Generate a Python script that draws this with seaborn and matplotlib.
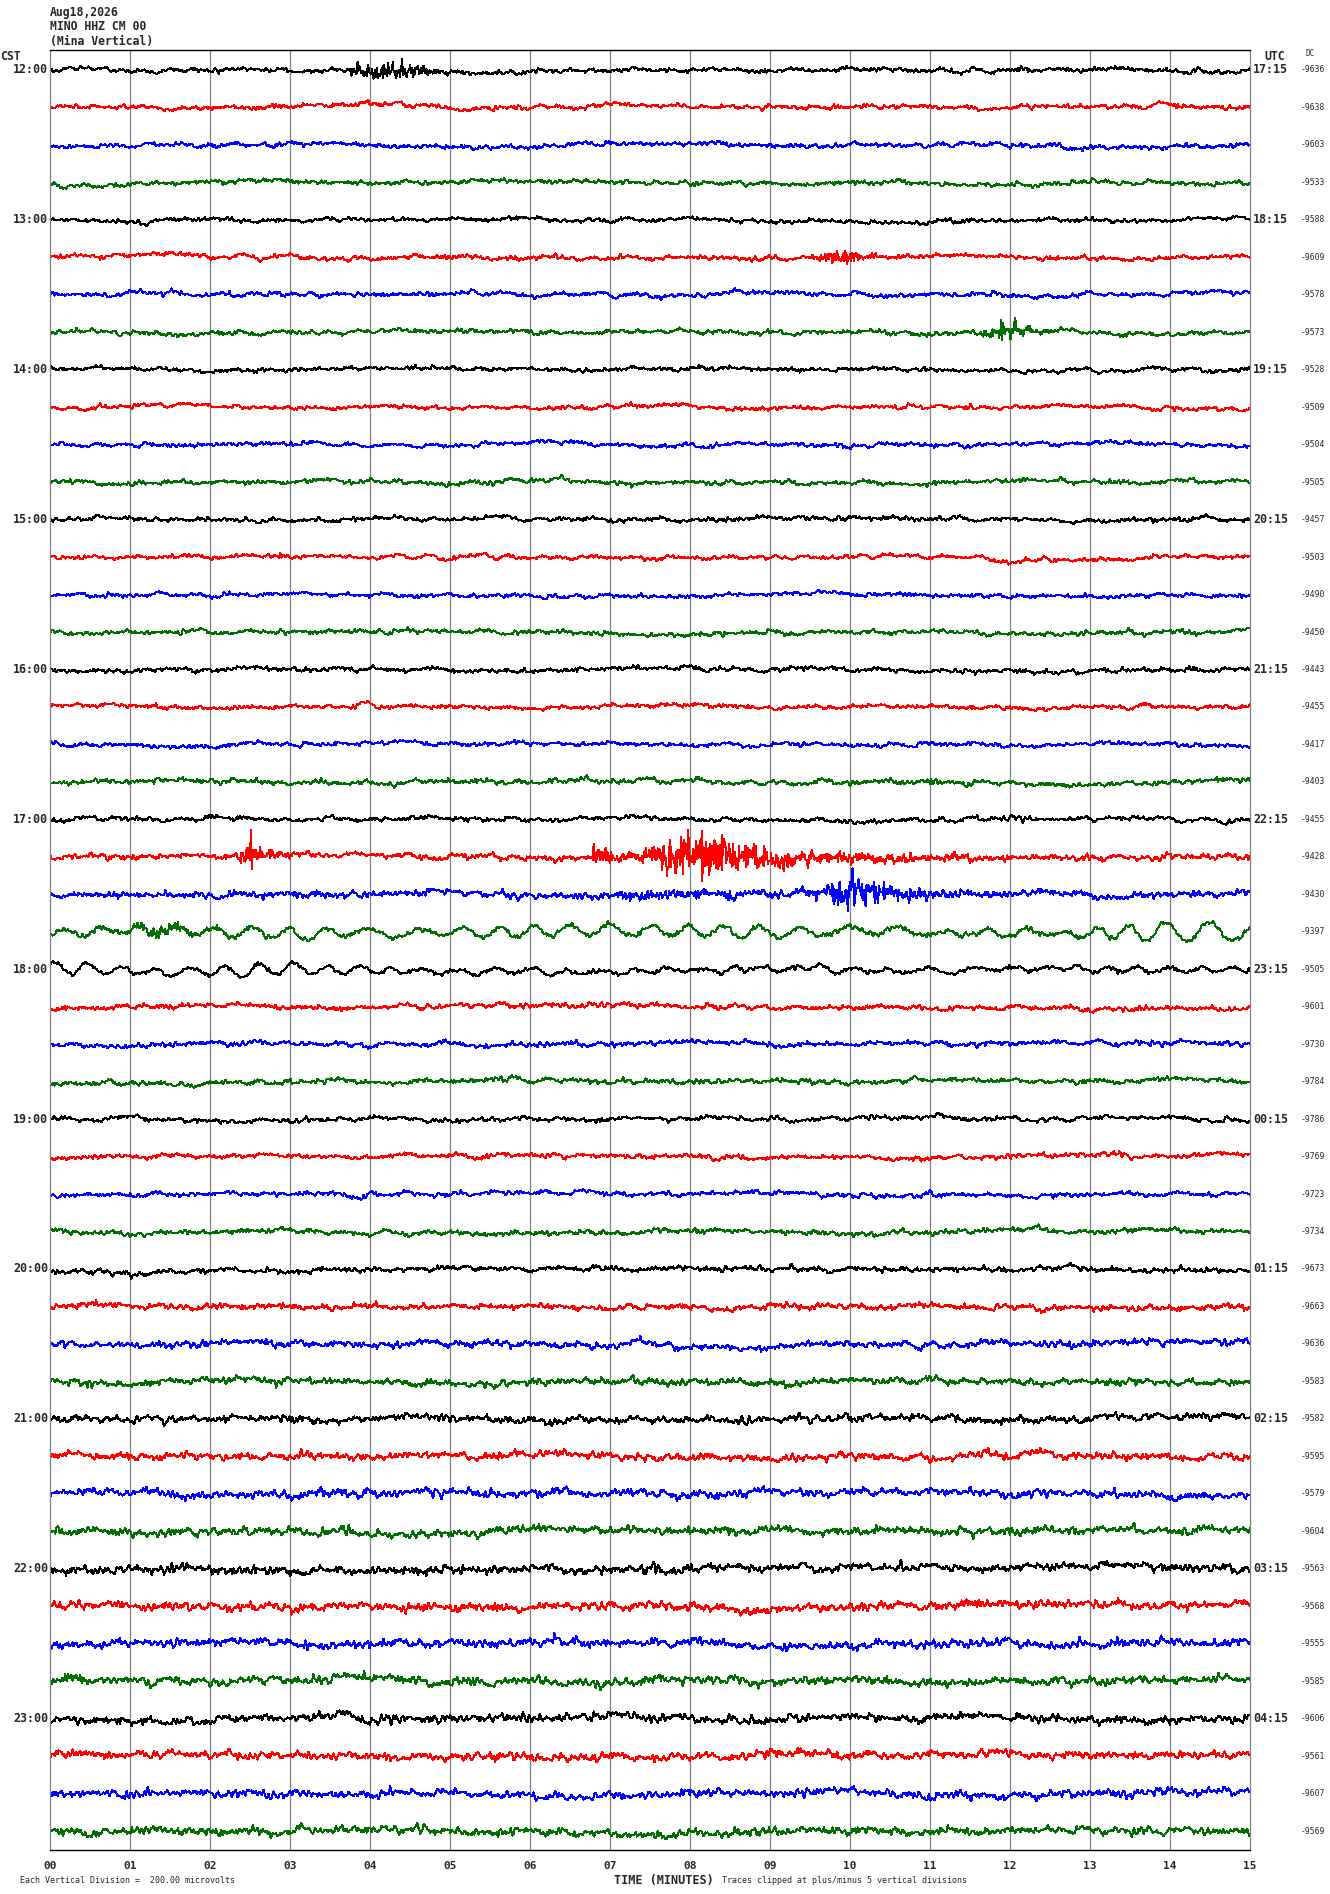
import numpy as np
import pandas as pd
import matplotlib
matplotlib.use('Agg')
import matplotlib.pyplot as plt
import matplotlib.transforms as mtransforms
import seaborn as sns

# ---- values ----
header = ['Aug18,2026', 'MINO HHZ CM 00', '(Mina Vertical)']
cst_hours = ['12:00', '13:00', '14:00', '15:00', '16:00', '17:00',
             '18:00', '19:00', '20:00', '21:00', '22:00', '23:00']
utc_hours = ['17:15', '18:15', '19:15', '20:15', '21:15', '22:15',
             '23:15', '00:15', '01:15', '02:15', '03:15', '04:15']
dc_values = [-9636, -9638, -9603, -9533, -9588, -9609, -9578, -9573,
             -9528, -9509, -9504, -9505, -9457, -9503, -9490, -9450,
             -9443, -9455, -9417, -9403, -9455, -9428, -9430, -9397,
             -9505, -9601, -9730, -9784, -9786, -9769, -9723, -9734,
             -9673, -9663, -9636, -9583, -9582, -9595, -9579, -9604,
             -9563, -9568, -9555, -9585, -9606, -9561, -9607, -9569]
trace_colors = ['black', 'red', 'blue', '#006e00']
minute_labels = ['%02d' % m for m in range(16)]

# background noise level of each row (pixels): jitter, wander
jitter_px = [1.0, 1.0, 1.0, 1.0, 0.9, 1.0, 1.0, 1.0, 0.9, 0.9, 0.9, 1.0,
             1.0, 0.9, 0.9, 1.0, 1.0, 0.9, 0.9, 1.1, 1.0, 1.3, 1.5, 1.2,
             1.0, 1.1, 1.1, 1.1, 1.0, 1.0, 1.0, 1.1, 1.2, 1.3, 1.5, 1.5,
             1.7, 1.7, 1.8, 1.8, 1.9, 1.9, 1.9, 1.9, 1.9, 1.8, 1.8, 1.8]
wander_px = [1.6, 1.6, 1.6, 1.5, 1.5, 1.6, 1.6, 1.5, 1.5, 1.5, 1.5, 1.6,
             1.6, 1.5, 1.5, 1.6, 1.6, 1.5, 1.5, 1.6, 1.6, 1.6, 1.7, 1.6,
             1.6, 1.6, 1.6, 1.6, 1.6, 1.6, 1.6, 1.6, 1.7, 1.7, 1.8, 1.8,
             1.9, 1.9, 2.0, 2.0, 2.0, 2.0, 2.0, 2.0, 2.0, 2.0, 2.0, 2.0]

# high-frequency bursts: row, onset min, peak min, decay min, amplitude px
burst_row = [0, 0, 5, 7, 19, 19, 21, 21, 21, 21, 22, 22, 23, 33]
burst_on = [3.72, 4.1, 9.4, 11.45, 10.98, 14.55, 2.3, 6.75, 7.3, 7.5, 6.9, 9.45, 0.95, 10.75]
burst_peak = [3.8, 4.3, 9.95, 11.95, 11.0, 14.6, 2.5, 6.8, 7.95, 8.2, 7.2, 10.0, 1.3, 10.8]
burst_decay = [0.6, 0.25, 0.22, 0.3, 0.05, 0.08, 0.2, 0.35, 0.8, 2.5, 3.0, 0.45, 0.6, 0.05]
burst_amp = [8, 10, 8, 9, 5, 4, 13, 12, 25, 4.5, 4, 16, 7, 7]

# single spikes: row, minute, height px
spike_row = [21, 22]
spike_min = [2.51, 10.04]
spike_px = [16, 28]

# slow humps: row, minute, width min, height px
hump_row = [44, 44, 1, 34, 34, 3, 13]
hump_min = [3.7, 4.0, 13.95, 7.4, 8.0, 0.6, 12.1]
hump_width = [0.12, 0.15, 0.15, 0.15, 0.12, 0.1, 0.2]
hump_px = [6, -3, 3, 4, -3, -3, -3]

# long-period swell: row, period min, envelope knots
swell_row = [23, 24]
swell_period = [0.5, 0.42]
swell_knot_min = [[0, 1, 2, 3, 5, 7, 8, 9.5, 10.5, 12.5, 13.3, 13.7, 15],
                  [0, 0.7, 1.1, 2, 2.3, 3, 3.5, 4.5, 6, 15]]
swell_knot_px = [[3, 4, 5, 5, 4, 5, 6, 5, 3, 3, 5, 9, 9],
                 [6, 5, 2.5, 2.5, 5.5, 5, 3.5, 2.5, 2, 2]]

n_rows = 48
row_px = 37.47
n_samp = 1800
minutes = np.linspace(0, 15, n_samp)


def smooth(v, w):
    k = np.exp(-0.5 * (np.arange(-int(3 * w) - 1, int(3 * w) + 2) / w) ** 2)
    out = np.convolve(v, k / k.sum(), mode='same')
    return out / out.std()


frames = []
for r in range(n_rows):
    # texture of the trace (not readable from the picture)
    tex = np.random.default_rng(1000 + r)
    hf = smooth(tex.normal(size=n_samp), 0.8)
    mf = smooth(tex.normal(size=n_samp), 7)
    lf = smooth(tex.normal(size=n_samp), 55)
    disp = jitter_px[r] * hf + wander_px[r] * (0.6 * mf + 0.6 * lf)
    white = tex.normal(size=n_samp)
    env = np.zeros(n_samp)
    for br, t0, tp, tau, amp in zip(burst_row, burst_on, burst_peak, burst_decay, burst_amp):
        if br != r:
            continue
        rise = np.clip((minutes - t0) / (tp - t0), 0, 1)
        fall = np.where(minutes > tp, np.exp(-(minutes - tp) / tau), 1.0)
        env += amp * rise * fall
    disp += env / 1.9 * white
    for sr, sm, sp in zip(spike_row, spike_min, spike_px):
        if sr == r:
            i0 = np.argmin(np.abs(minutes - sm))
            disp[i0] += sp
            disp[i0 + 2] -= 0.5 * sp
    for hr, hm, hw, hp in zip(hump_row, hump_min, hump_width, hump_px):
        if hr == r:
            disp += hp * np.exp(-0.5 * ((minutes - hm) / hw) ** 2)
    for k, sr in enumerate(swell_row):
        if sr == r:
            phase = 2 * np.pi * minutes / swell_period[k] + 1.2 * smooth(tex.normal(size=n_samp), 90)
            disp += np.interp(minutes, swell_knot_min[k], swell_knot_px[k]) * np.sin(phase)
    frames.append(pd.DataFrame({'minute': minutes,
                                'y': -r + disp / row_px,
                                'row': 'r%02d' % r}))
df = pd.concat(frames, ignore_index=True)
palette = {'r%02d' % r: trace_colors[r % 4] for r in range(n_rows)}

sns.set_style('white')
plt.rcParams['font.family'] = ['DejaVu Sans Mono', 'DejaVu Sans']

W, H = 1330, 1894
fig = plt.figure(figsize=(W / 100, H / 100), dpi=100)
ax = fig.add_axes([50 / W, (H - 1850) / H, 1200 / W, 1800 / H])

for m in range(1, 15):
    ax.axvline(m, color='#808080', lw=0.9, zorder=1)

sns.lineplot(data=df, x='minute', y='y', hue='row', palette=palette,
             estimator=None, sort=False, legend=False, lw=0.72,
             antialiased=False, ax=ax, zorder=2)

ax.set_xlim(0, 15)
ax.set_ylim(-(47 + 19 / row_px), 20 / row_px)
ax.set_xlabel('')
ax.set_ylabel('')
ax.set_yticks([])
ax.set_xticks(range(16))
ax.set_xticklabels(minute_labels)
ax.set_xticks(np.arange(0, 15.001, 1 / 6), minor=True)
ax.tick_params(axis='x', which='major', length=6.5, width=0.9, direction='out',
               pad=1.5, labelsize=8, color='black')
ax.tick_params(axis='x', which='minor', length=4.3, width=0.9, direction='out', color='black')
for lab in ax.get_xticklabels():
    lab.set_fontweight('bold')
for side in ['top', 'bottom']:
    ax.spines[side].set_color('black')
    ax.spines[side].set_linewidth(1.0)
for side in ['left', 'right']:
    ax.spines[side].set_color('#808080')
    ax.spines[side].set_linewidth(0.9)

bt = mtransforms.blended_transform_factory(fig.transFigure, ax.transData)
for i in range(n_rows):
    if i % 4 == 0:
        ax.text(48 / W, -i, cst_hours[i // 4], transform=bt, ha='right', va='center',
                fontsize=8.4, fontweight='bold')
        ax.text(1253 / W, -i, utc_hours[i // 4], transform=bt, ha='left', va='center',
                fontsize=8.4, fontweight='bold')
    ax.text(1301 / W, -i, str(dc_values[i]), transform=bt, ha='left', va='center',
            fontsize=5.8)

for k, line in enumerate(header):
    fig.text(50 / W, 1 - (12.3 + 14.7 * k) / H, line, ha='left', va='center',
             fontsize=8.3, fontweight='bold')
fig.text(0 / W, 1 - 57 / H, 'CST', ha='left', va='center', fontsize=8.3, fontweight='bold')
fig.text(1264 / W, 1 - 57 / H, 'UTC', ha='left', va='center', fontsize=8.3, fontweight='bold')
fig.text(1306 / W, 1 - 54 / H, 'DC', ha='left', va='center', fontsize=5.5)

fig.text(20 / W, 1 - 1880 / H, 'Each Vertical Division =  200.00 microvolts',
         ha='left', va='center', fontsize=6)
fig.text(614 / W, 1 - 1880 / H, 'TIME (MINUTES)', ha='left', va='center',
         fontsize=8.5, fontweight='bold')
fig.text(722 / W, 1 - 1880 / H, 'Traces clipped at plus/minus 5 vertical divisions',
         ha='left', va='center', fontsize=6)

fig.savefig('out.png', dpi=100, facecolor='white')
